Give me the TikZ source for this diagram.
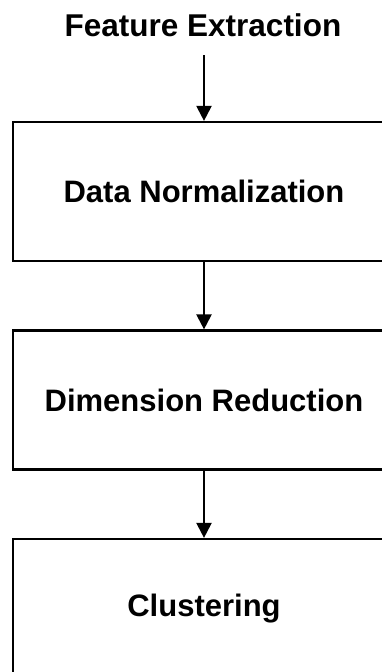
\documentclass[tikz,border=0pt]{standalone}
\usepackage{fontspec}
\setmainfont{Liberation Sans}
\usetikzlibrary{arrows.meta}
\tikzset{
  stagebox/.style={draw=black, line width=2.2pt, minimum width=382pt, minimum height=139pt, inner sep=0pt, font=\fontsize{31}{37}\selectfont\bfseries},
  flowarrow/.style={line width=2.2pt, -{Triangle[width=15pt,length=15pt]}},
  titletext/.style={inner sep=0pt, font=\fontsize{31.5}{37}\selectfont\bfseries}
}
\begin{document}
\begin{tikzpicture}[x=1pt,y=-1pt]
\useasboundingbox (0,0) rectangle (382,672);
\clip (0,0) rectangle (382,672);
\node[titletext, anchor=base] (title) at (203,36) {Feature Extraction};
\node[stagebox] (n1) at (204,191.5) {Data Normalization};
\node[stagebox] (n2) at (204,400) {Dimension Reduction};
\node[stagebox] (n3) at (204,608.5) {Clustering};
\draw[flowarrow] ([yshift=-19pt]title.base -| n1.north) -- (n1.north);
\draw[flowarrow] (n1.south) -- (n2.north);
\draw[flowarrow] (n2.south) -- (n3.north);
\end{tikzpicture}
\end{document}
